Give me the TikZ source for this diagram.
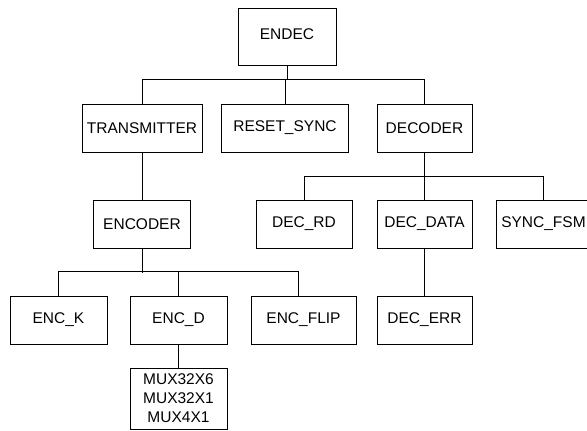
\documentclass[tikz,border=0pt]{standalone}
\usepackage{fontspec}
\setmainfont{Liberation Sans}
\usetikzlibrary{positioning}
\tikzstyle{block} = [draw, rectangle, line width=0.8pt, minimum height=48pt,
inner sep=2pt, font=\fontsize{15.5}{19}\selectfont]
\tikzstyle{line} = [draw, line width=0.8pt]

\begin{document}
\begin{tikzpicture}[x=1pt,y=-1pt]
	\useasboundingbox (0,0) rectangle (587,431);
	\clip (0,0) rectangle (587,431);
	%% top level
	\node [block, minimum width=98pt, minimum height=57pt] (endec) at (287,36.5) {\raisebox{4.5pt}{ENDEC}};
	\node [block, minimum width=120pt] (transmitter) at (142,128) {TRANSMITTER};
	\node [block, minimum width=127pt] (reset) at (285,128) {RESET\_SYNC};
	\node [block, minimum width=95pt] (decoder) at (424.5,128) {DECODER};
	%% decoder side
	\node [block, minimum width=96pt] (decrd) at (304,224) {DEC\_RD};
	\node [block, minimum width=95pt] (decdata) at (424.5,224) {DEC\_DATA};
	\node [block, minimum width=95pt] (syncfsm) at (543.5,224) {SYNC\_FSM};
	\node [block, minimum width=95pt] (decerr) at (424.5,320) {DEC\_ERR};
	%% encoder side
	\node [block, minimum width=97pt] (encoder) at (142,224.5) {ENCODER};
	\node [block, minimum width=97pt] (enck) at (58.5,320) {ENC\_K};
	\node [block, minimum width=97pt] (encd) at (178.5,320) {ENC\_D};
	\node [block, minimum width=105pt] (encflip) at (303.5,320) {ENC\_FLIP};
	\node [block, minimum width=97pt, minimum height=61pt, align=center] (mux) at (178.5,398.5)
		{MUX32X6\\MUX32X1\\MUX4X1};
	%% Links
	\path [line] (endec.south) -- ++(0,15);
	\path [line] (transmitter.north) -- ++(0,-24) -| (decoder.north);
	\path [line] (reset.north) -- ++(0,-24);
	\path [line] (decoder.south) -- (decdata.north);
	\path [line] (decrd.north) -- ++(0,-23) -| (syncfsm.north);
	\path [line] (decdata.south) -- (decerr.north);
	\path [line] (transmitter.south) -- (encoder.north);
	\path [line] (encoder.south) -- ++(0,24);
	\path [line] (enck.north) -- ++(0,-24) -| ([xshift=-5.5pt]encflip.north);
	\path [line] (encd.north) -- ++(0,-24);
	\path [line] (encd.south) -- (mux.north);
\end{tikzpicture}
\end{document}
